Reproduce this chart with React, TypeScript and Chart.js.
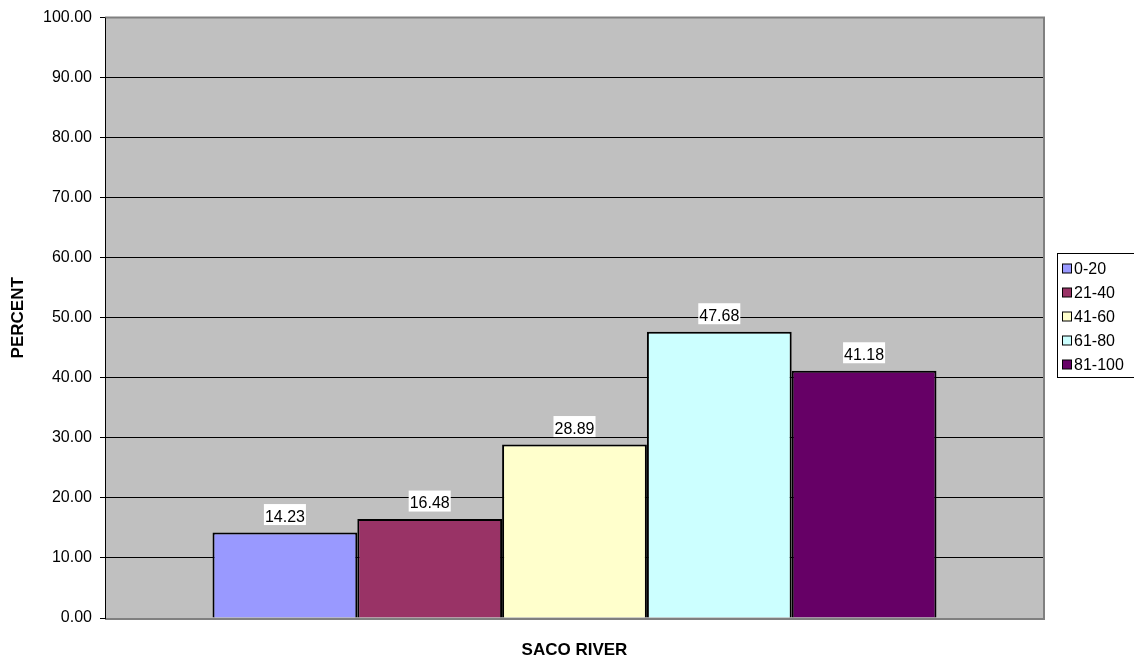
import React, { useEffect, useRef } from "react";
import { Chart, registerables } from "chart.js";

Chart.register(...registerables);

const categories = [""];
const seriesLabels = ["0-20", "21-40", "41-60", "61-80", "81-100"];
const seriesValues = [14.23, 16.48, 28.89, 47.68, 41.18];
const seriesColors = ["#9999FF", "#993366", "#FFFFCC", "#CCFFFF", "#660066"];
const yTicks = [0, 10, 20, 30, 40, 50, 60, 70, 80, 90, 100];
const xTitle = "SACO RIVER";
const yTitle = "PERCENT";

const FONT = 'Arial, "Liberation Sans", sans-serif';

const plotBgPlugin = {
  id: "plotBg",
  beforeDraw(chart: any) {
    const { ctx, chartArea: a } = chart;
    ctx.save();
    ctx.fillStyle = "#C0C0C0";
    ctx.fillRect(a.left, a.top, a.right - a.left, a.bottom - a.top);
    ctx.restore();
  },
  afterDatasetsDraw(chart: any) {
    const { ctx, chartArea: a } = chart;
    ctx.save();
    ctx.strokeStyle = "#808080";
    ctx.lineWidth = 2;
    ctx.beginPath();
    ctx.moveTo(a.left, a.top);
    ctx.lineTo(a.right, a.top);
    ctx.lineTo(a.right, a.bottom + 1);
    ctx.lineTo(a.left, a.bottom + 1);
    ctx.stroke();
    ctx.strokeStyle = "#000";
    ctx.lineWidth = 1;
    ctx.beginPath();
    ctx.moveTo(Math.round(a.left) + 0.5, a.top);
    ctx.lineTo(Math.round(a.left) + 0.5, a.bottom + 1);
    ctx.stroke();
    ctx.restore();
  },
};

const valueLabelPlugin = {
  id: "valueLabels",
  afterDatasetsDraw(chart: any) {
    const { ctx } = chart;
    ctx.save();
    ctx.font = `16px ${FONT}`;
    ctx.textAlign = "center";
    ctx.textBaseline = "alphabetic";
    chart.data.datasets.forEach((ds: any, i: number) => {
      const meta = chart.getDatasetMeta(i);
      meta.data.forEach((el: any, j: number) => {
        const v = ds.data[j] as number;
        const text = v.toFixed(2);
        const w = ctx.measureText(text).width;
        const base = el.y - 11;
        ctx.fillStyle = "#FFFFFF";
        ctx.fillRect(el.x - w / 2 - 1, base - 17.5, w + 2, 21);
        ctx.fillStyle = "#000000";
        ctx.fillText(text, el.x, base);
      });
    });
    ctx.restore();
  },
};

const legendPlugin = {
  id: "customLegend",
  afterDraw(chart: any) {
    const { ctx } = chart;
    ctx.save();
    const bx = 1057.5;
    const by = 253.5;
    const bh = 124;
    ctx.strokeStyle = "#000";
    ctx.lineWidth = 1;
    ctx.strokeRect(bx, by, 100, bh);
    ctx.font = `16px ${FONT}`;
    ctx.textBaseline = "middle";
    ctx.textAlign = "left";
    chart.data.datasets.forEach((ds: any, i: number) => {
      const cy = 269 + i * 24;
      ctx.fillStyle = ds.backgroundColor;
      ctx.fillRect(1062.5, cy - 5, 9, 9);
      ctx.strokeStyle = "#000";
      ctx.strokeRect(1062.5, cy - 5, 9, 9);
      ctx.fillStyle = "#000";
      ctx.fillText(ds.label, 1074, cy + 1);
    });
    ctx.restore();
  },
};

export default function App() {
  const ref = useRef<HTMLCanvasElement>(null);
  useEffect(() => {
    if (!ref.current) return;
    const chart = new Chart(ref.current, {
      type: "bar",
      data: {
        labels: categories,
        datasets: seriesLabels.map((label, i) => ({
          label,
          data: [seriesValues[i]],
          backgroundColor: seriesColors[i],
          borderColor: "#000000",
          borderWidth: 2,
          categoryPercentage: 0.771,
          barPercentage: 1,
        })),
      },
      options: {
        responsive: false,
        animation: false,
        events: [],
        layout: { padding: { top: 15, right: 90, left: 0, bottom: 0 } },
        plugins: {
          legend: { display: false },
          tooltip: { enabled: false },
          title: { display: false },
        },
        scales: {
          x: {
            grid: { display: false, drawTicks: false },
            border: { display: false },
            ticks: { display: false },
            title: {
              display: true,
              text: xTitle,
              color: "#000",
              font: { family: FONT, size: 17, weight: "bold" },
              padding: { top: 0, bottom: 0 },
            },
            afterFit(s: any) {
              s.height = 43;
            },
          },
          y: {
            min: 0,
            max: 100,
            afterBuildTicks(s: any) {
              s.ticks = yTicks.map((v) => ({ value: v }));
            },
            grid: {
              color: "#000000",
              lineWidth: 1,
              drawTicks: true,
              tickLength: 5,
              tickColor: "#000000",
            },
            border: { display: true, color: "#000000" },
            ticks: {
              color: "#000",
              font: { family: FONT, size: 16 },
              padding: 8,
              callback: (v: any) => Number(v).toFixed(2),
            },
            title: {
              display: true,
              text: yTitle,
              color: "#000",
              font: { family: FONT, size: 17, weight: "bold" },
              padding: { top: 8, bottom: 0 },
            },
            afterFit(s: any) {
              s.width = 105;
            },
          },
        },
      },
      plugins: [plotBgPlugin, valueLabelPlugin, legendPlugin],
    });
    return () => chart.destroy();
  }, []);
  return (
    <div style={{ position: "fixed", left: 0, top: 0, width: 1134, height: 661, background: "#fff" }}>
      <canvas ref={ref} width={1134} height={661} />
    </div>
  );
}
